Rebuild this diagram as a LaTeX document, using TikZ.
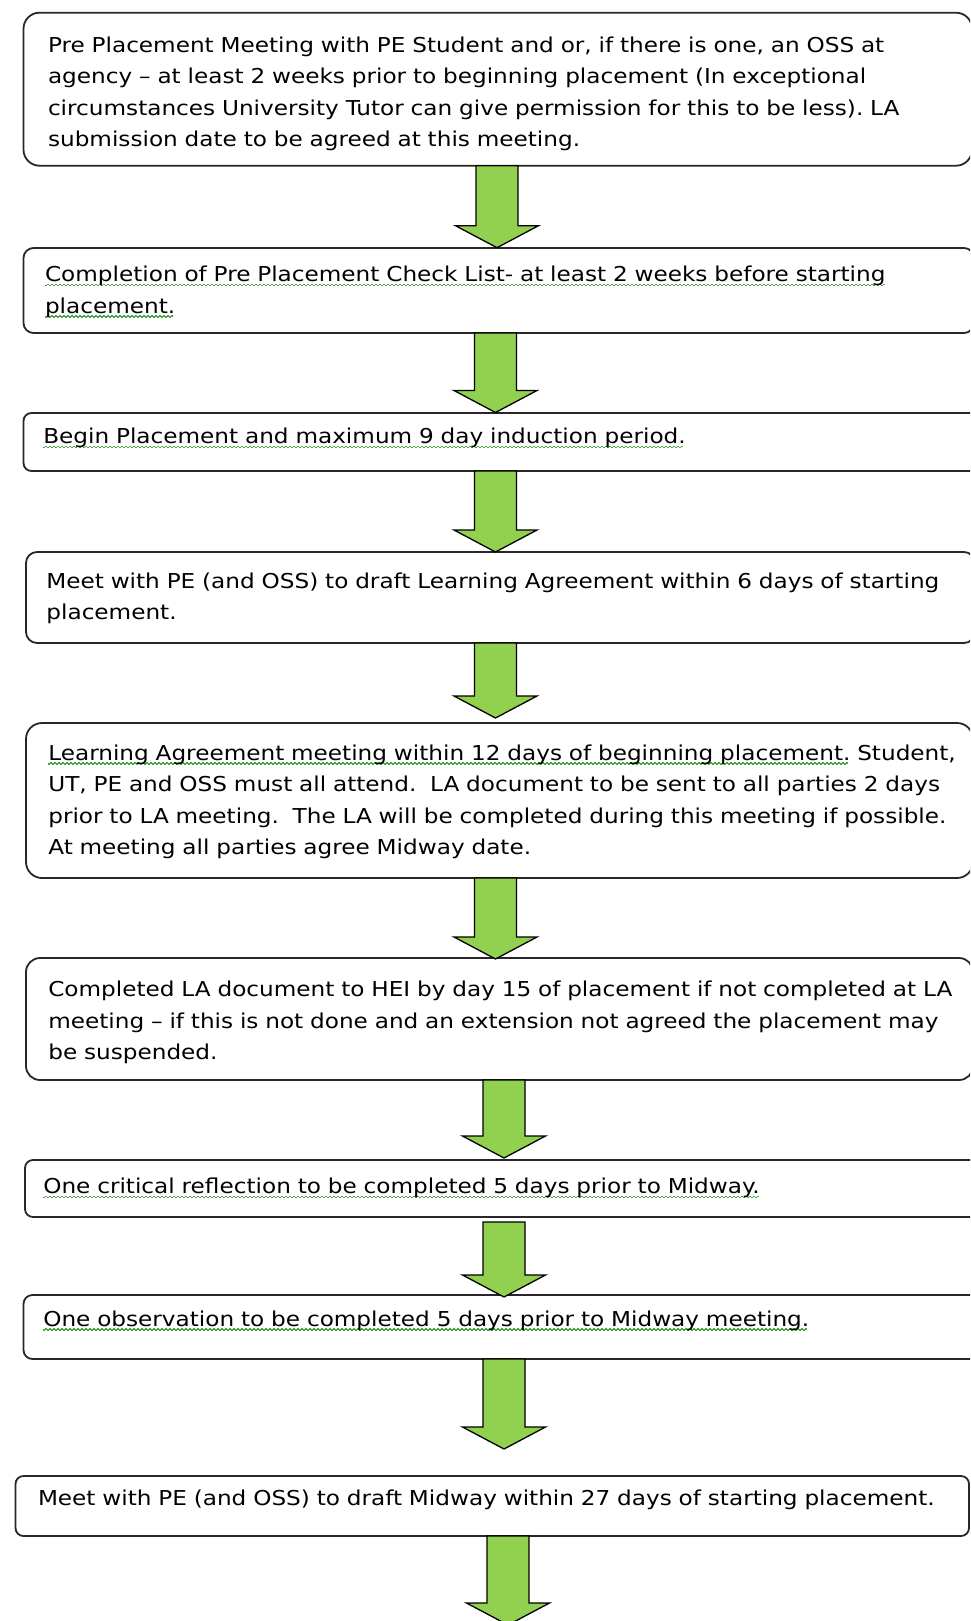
\documentclass[tikz,border=0pt]{standalone}
\usepackage{fontspec}
\setmainfont[FakeStretch=1.13]{DejaVu Sans}
\usetikzlibrary{calc}
\frenchspacing
\definecolor{arrowgreen}{HTML}{92D050}
\definecolor{sqgreen}{RGB}{70,165,60}
\definecolor{boxline}{RGB}{40,40,40}
\newsavebox\sqbox
\newcommand\squig[1]{\leavevmode\sbox\sqbox{#1}\rlap{\hbox to \wd\sqbox{\color{sqgreen}\leaders\hbox to 4pt{\rule[-4.5pt]{2pt}{1.3pt}\rule[-3.5pt]{2pt}{1.3pt}}\hfill}}\usebox\sqbox}
\newcommand\barr[2]{\filldraw[barrow] ($(#1)+(-21,0)$) -- ($(#1)+(21,0)$) -- ($(#2)+(21,-22)$) -- ($(#2)+(41.5,-22)$) -- (#2) -- ($(#2)+(-41.5,-22)$) -- ($(#2)+(-21,-22)$) -- cycle;}
\begin{document}
\begin{tikzpicture}[x=1pt,y=-1pt,
  stepbox/.style={draw=boxline,line width=1.8pt,fill=white,inner sep=0pt,outer sep=0pt,anchor=north west},
  steptext/.style={anchor=base west,inner sep=0pt,outer sep=0pt,text width=935pt,align=left,
    font=\fontsize{20.5}{31.5}\selectfont\frenchspacing},
  barrow/.style={fill=arrowgreen,draw=black,line width=1.3pt,line join=miter}]
\useasboundingbox (0,0) rectangle (970,1621);
\fill[white] (0,0) rectangle (970,1621);
\clip (0,0) rectangle (970,1621);
% boxes
\node[stepbox,rounded corners=16pt,minimum width=948.5pt,minimum height=153pt] (b1) at (23.5,12.7) {};
\node[stepbox,rounded corners=10pt,minimum width=950.5pt,minimum height=85pt] (b2) at (23.5,248) {};
\node[stepbox,rounded corners=8pt,minimum width=960pt,minimum height=58pt] (b3) at (23.5,413) {};
\node[stepbox,rounded corners=11pt,minimum width=949pt,minimum height=91pt] (b4) at (26,552) {};
\node[stepbox,rounded corners=16pt,minimum width=947pt,minimum height=155pt] (b5) at (26,723) {};
\node[stepbox,rounded corners=14pt,minimum width=947pt,minimum height=122pt] (b6) at (26,958) {};
\node[stepbox,rounded corners=8pt,minimum width=960pt,minimum height=57pt] (b7) at (25,1160) {};
\node[stepbox,rounded corners=9pt,minimum width=960pt,minimum height=64pt] (b8) at (23.5,1295) {};
\node[stepbox,rounded corners=8pt,minimum width=953.5pt,minimum height=60pt] (b9) at (15.5,1476) {};
% texts
\node[steptext] (t1) at (48,52.3) {Pre Placement Meeting with PE Student and or, if there is one, an OSS at\\
agency – at least 2 weeks prior to beginning placement (In exceptional\\
circumstances University Tutor can give permission for this to be less). LA\\
submission date to be agreed at this meeting.};
\node[steptext] (t2) at (45,281.7) {\squig{Completion of Pre Placement Check List- at least 2 weeks before starting}\\
\squig{placement.}};
\node[steptext] (t3) at (43.3,443.3) {\squig{Begin Placement and maximum 9 day induction period.}};
\node[steptext] (t4) at (46.4,588.3) {Meet with PE (and OSS) to draft Learning Agreement within 6 days of starting\\
placement.};
\node[steptext] (t5) at (48.3,760) {\squig{Learning Agreement meeting within 12 days of beginning placement.} Student,\\
UT, PE and OSS must all attend.\ \ LA document to be sent to all parties 2 days\\
prior to LA meeting.\ \ The LA will be completed during this meeting if possible.\\
At meeting all parties agree Midway date.};
\node[steptext] (t6) at (48.3,996.7) {Completed LA document to HEI by day 15 of placement if not completed at LA\\
meeting – if this is not done and an extension not agreed the placement may\\
be suspended.};
\node[steptext] (t7) at (43.3,1193.3) {\squig{One critical reflection to be completed 5 days prior to Midway.}};
\node[steptext] (t8) at (43.3,1326) {\squig{One observation to be completed 5 days prior to Midway meeting.}};
\node[steptext] (t9) at (38,1505) {Meet with PE (and OSS) to draft Midway within 27 days of starting placement.};
% arrow end points
\coordinate (a1s) at (497,165.7);  \coordinate (a1t) at (497,247.7);
\coordinate (a2s) at (495.5,333);  \coordinate (a2t) at (495.5,412.5);
\coordinate (a3s) at (495.5,471);  \coordinate (a3t) at (495.5,552);
\coordinate (a4s) at (495.5,643);  \coordinate (a4t) at (495.5,718);
\coordinate (a5s) at (495.5,878);  \coordinate (a5t) at (495.5,959);
\coordinate (a6s) at (504,1080);   \coordinate (a6t) at (504,1158);
\coordinate (a7s) at (504,1222);   \coordinate (a7t) at (504,1297);
\coordinate (a8s) at (504,1359);   \coordinate (a8t) at (504,1449);
\coordinate (a9s) at (508,1536);   \coordinate (a9t) at (508,1625);
\barr{a1s}{a1t}
\barr{a2s}{a2t}
\barr{a3s}{a3t}
\barr{a4s}{a4t}
\barr{a5s}{a5t}
\barr{a6s}{a6t}
\barr{a7s}{a7t}
\barr{a8s}{a8t}
\barr{a9s}{a9t}
\end{tikzpicture}
\end{document}
